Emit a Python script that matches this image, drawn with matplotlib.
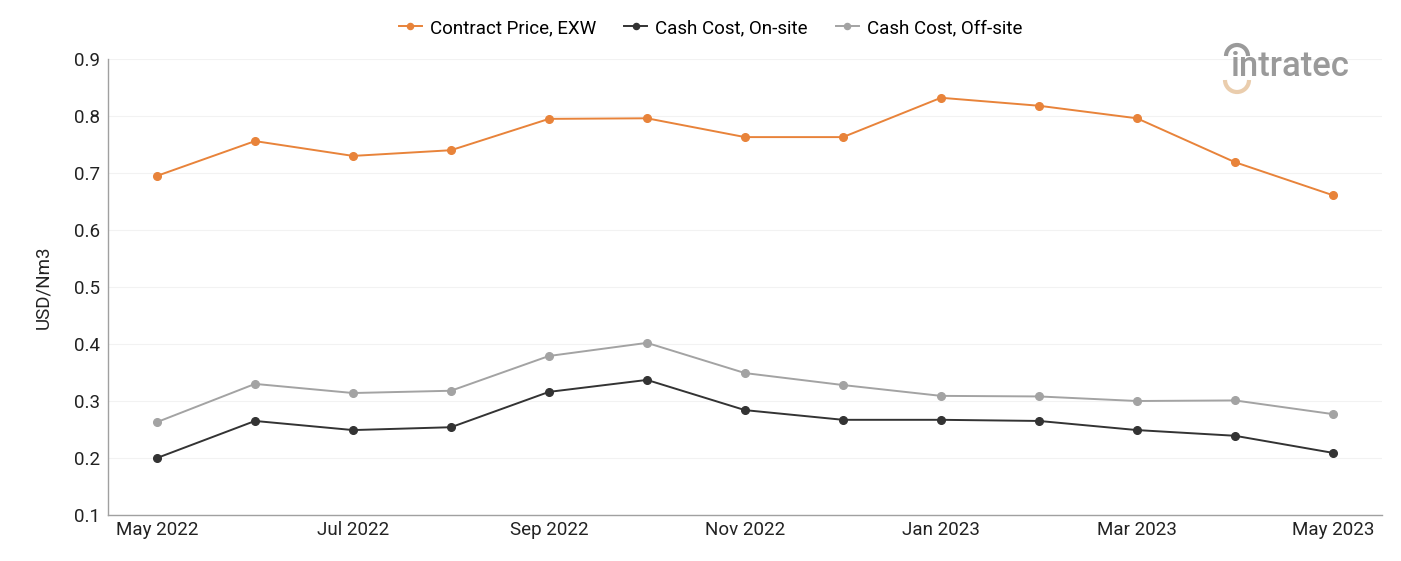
import matplotlib
matplotlib.use("Agg")
import matplotlib.pyplot as plt
from matplotlib.patches import Arc
import numpy as np

plt.rcParams["font.family"] = ["Roboto", "DejaVu Sans"]

months = ["May 2022", "Jun 2022", "Jul 2022", "Aug 2022", "Sep 2022", "Oct 2022",
          "Nov 2022", "Dec 2022", "Jan 2023", "Feb 2023", "Mar 2023", "Apr 2023", "May 2023"]
contract_price = [0.695, 0.756, 0.730, 0.740, 0.795, 0.796, 0.763, 0.763,
                  0.832, 0.818, 0.796, 0.719, 0.661]
cost_onsite = [0.200, 0.265, 0.249, 0.254, 0.316, 0.337, 0.284, 0.267,
               0.267, 0.265, 0.249, 0.239, 0.209]
cost_offsite = [0.263, 0.330, 0.314, 0.318, 0.379, 0.402, 0.349, 0.328,
                0.309, 0.308, 0.300, 0.301, 0.277]

fig = plt.figure(figsize=(14.01, 5.61), dpi=100)
ax = fig.add_axes([0.0771, 0.082, 0.9093, 0.8128])

x = np.arange(len(months))
ax.plot(x, contract_price, color="#E8833A", lw=1.4, marker="o", ms=5.5, label="Contract Price, EXW")
ax.plot(x, cost_onsite, color="#333333", lw=1.4, marker="o", ms=5.5, label="Cash Cost, On-site")
ax.plot(x, cost_offsite, color="#A3A3A3", lw=1.4, marker="o", ms=5.5, label="Cash Cost, Off-site")

ax.set_xlim(-0.5, 12.5)
ax.set_ylim(0.1, 0.9)
ax.set_yticks(np.arange(0.1, 0.91, 0.1))
ax.set_yticklabels([f"{v:.1f}" for v in np.arange(0.1, 0.91, 0.1)], fontsize=13.5, color="#222222")
ax.set_xticks(x[::2])
ax.set_xticklabels(months[::2], fontsize=13.5, color="#222222")
ax.tick_params(axis="y", length=0, pad=5.5)
ax.tick_params(axis="x", length=0, pad=4)
ax.grid(axis="y", color="#F2F2F2", lw=0.8)
ax.set_axisbelow(True)
for s in ["top", "right"]:
    ax.spines[s].set_visible(False)
for s in ["left", "bottom"]:
    ax.spines[s].set_color("#A0A0A0")
    ax.spines[s].set_linewidth(1.0)
ax.set_ylabel("USD/Nm3", fontsize=13.5, color="#222222", labelpad=16)

fig.legend(loc="center", bbox_to_anchor=(0.507, 0.95), ncol=3, frameon=False,
           fontsize=13.5, handlelength=1.25, columnspacing=1.5, handletextpad=0.4,
           markerscale=0.8)

# logo
fig.text(1231 / 1401, 1 - 67 / 561, "intratec", fontsize=25, color="#9A9A9A", fontweight="medium",
         ha="left", va="center")
fig.patches.append(Arc((1237 / 1401, 1 - 56 / 561), 22 / 1401, 22 / 561, theta1=0, theta2=180,
                       transform=fig.transFigure, color="#9A9A9A", lw=3))
fig.patches.append(Arc((1237 / 1401, 1 - 80 / 561), 24 / 1401, 24 / 561, theta1=180, theta2=360,
                       transform=fig.transFigure, color="#EACDAD", lw=3))

fig.savefig("out.png", dpi=100)
